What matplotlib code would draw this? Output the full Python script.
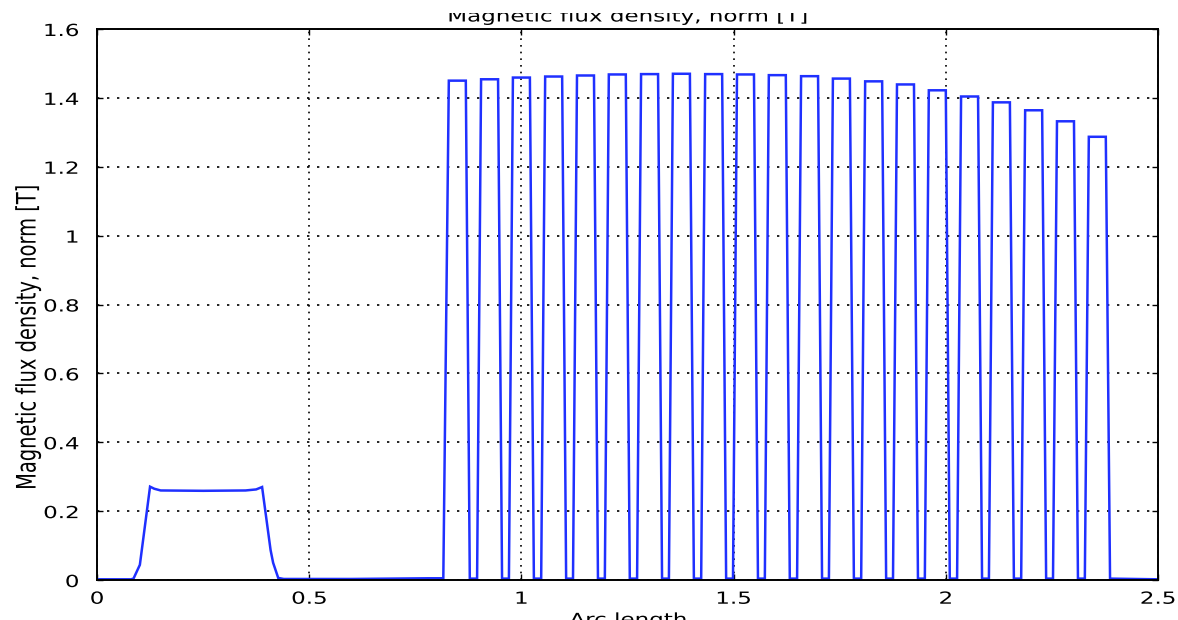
import matplotlib
matplotlib.use("Agg")
import matplotlib.pyplot as plt
from matplotlib.patheffects import AbstractPathEffect
from matplotlib.transforms import Affine2D
from matplotlib.path import Path
from matplotlib.patches import Rectangle

# ---- data -------------------------------------------------------------
# low-field stretch before the pole region (arc length, |B|)
lead_x = [0.000, 0.080, 0.086, 0.101, 0.125, 0.135, 0.150, 0.250, 0.350,
          0.375, 0.389, 0.409, 0.415, 0.427, 0.440, 0.600, 0.780, 0.816]
lead_y = [0.002, 0.002, 0.004, 0.044, 0.271, 0.265, 0.260, 0.259, 0.260,
          0.263, 0.270, 0.087, 0.050, 0.006, 0.003, 0.003, 0.005, 0.005]

# start of each flat pulse top and its level
pulse_start = [0.829, 0.905, 0.980, 1.056, 1.131, 1.206, 1.282, 1.357,
               1.433, 1.508, 1.583, 1.659, 1.734, 1.810, 1.885, 1.960,
               2.036, 2.111, 2.187, 2.262, 2.337]
pulse_peak = [1.450, 1.454, 1.459, 1.462, 1.465, 1.468, 1.469, 1.470,
              1.469, 1.468, 1.466, 1.463, 1.456, 1.448, 1.439, 1.422,
              1.404, 1.387, 1.364, 1.332, 1.287]
gap_floor = 0.004          # level between neighbouring pulses

# tail after the last pulse
tail_x = [2.387, 2.500]
tail_y = [0.004, 0.002]

x_ticks = [0, 0.5, 1, 1.5, 2, 2.5]
x_tick_labels = ["0", "0.5", "1", "1.5", "2", "2.5"]
y_ticks = [0, 0.2, 0.4, 0.6, 0.8, 1.0, 1.2, 1.4, 1.6]
y_tick_labels = ["0", "0.2", "0.4", "0.6", "0.8", "1", "1.2", "1.4", "1.6"]

TITLE = "Magnetic flux density, norm [T]"
XLABEL = "Arc length"
YLABEL = "Magnetic flux density, norm [T]"

# pulse geometry (arc-length units)
TOP_WIDTH = 0.040
EDGE = 0.0094


class Widen(AbstractPathEffect):
    """Stretch rendered glyphs horizontally around an anchor."""

    def __init__(self, factor, anchor="center"):
        super().__init__((0, 0))
        self._factor = factor
        self._anchor = anchor

    def draw_path(self, renderer, gc, tpath, affine, rgbFace=None):
        verts = tpath.vertices
        if tpath.codes is not None:
            verts = verts[tpath.codes != Path.CLOSEPOLY]
        if len(verts) == 0:
            return
        pts = affine.transform(verts)
        lo, hi = pts[:, 0].min(), pts[:, 0].max()
        if self._anchor == "left":
            a = lo
        elif self._anchor == "right":
            a = hi
        else:
            a = 0.5 * (lo + hi)
        wide = Affine2D().translate(-a, 0).scale(self._factor, 1.0).translate(a, 0)
        renderer.draw_path(gc, tpath, affine + wide, rgbFace)


WIDE = 1.38

# ---- build the polyline ----------------------------------------------
xs = list(lead_x)
ys = list(lead_y)
n = len(pulse_start)
for i, (x0, h) in enumerate(zip(pulse_start, pulse_peak)):
    xs += [x0, x0 + TOP_WIDTH]
    ys += [h, h]
    if i < n - 1:
        xs += [x0 + TOP_WIDTH + EDGE, pulse_start[i + 1] - EDGE]
        ys += [gap_floor, gap_floor]
xs += tail_x
ys += tail_y

# ---- figure -----------------------------------------------------------
W, H = 1178, 620
fig = plt.figure(figsize=(W / 100, H / 100), dpi=100)
fig.patch.set_facecolor("white")
ax = fig.add_axes([97 / W, 1 - 580 / H, (1158 - 97) / W, (580 - 29) / H])

ax.plot(xs, ys, color="#1f30ff", lw=1.8, solid_joinstyle="miter", zorder=3)

ax.set_xlim(0, 2.5)
ax.set_ylim(0, 1.6)
ax.set_xticks(x_ticks)
ax.set_xticklabels(x_tick_labels)
ax.set_yticks(y_ticks)
ax.set_yticklabels(y_tick_labels)

ax.tick_params(axis="both", direction="in", top=True, right=True,
               length=4.5, width=1.0, color="black", labelsize=12)
ax.tick_params(axis="x", pad=7)
ax.tick_params(axis="y", pad=13)

for lab in ax.get_xticklabels():
    lab.set_path_effects([Widen(WIDE, "center")])
for lab in ax.get_yticklabels():
    lab.set_path_effects([Widen(WIDE, "right")])

# dotted grid; horizontal dots come out wider than vertical ones
ax.xaxis.grid(True, color="black", lw=1.2, linestyle=(0, (1.0, 3.0)))
ax.yaxis.grid(True, color="black", lw=1.2, linestyle=(0, (1.4, 4.6)))
ax.set_axisbelow(False)
for gl in ax.get_xgridlines() + ax.get_ygridlines():
    gl.set_zorder(2)

for sp in ax.spines.values():
    sp.set_linewidth(1.4)
    sp.set_color("black")
    sp.set_zorder(4)

fig.text(627.5 / W, 1 - 21.5 / H, TITLE, ha="center", va="baseline",
         fontsize=12, path_effects=[Widen(WIDE, "center")], zorder=3)
fig.text(628 / W, 1 - 611 / H, XLABEL, ha="center", va="top",
         fontsize=12, path_effects=[Widen(WIDE, "center")], zorder=3)
fig.text(28 / W, 1 - 337 / H, YLABEL, ha="center", va="center",
         rotation=90, fontsize=14, path_effects=[Widen(WIDE, "center")])

# the top band of the canvas is blank, which trims the title
fig.patches.append(Rectangle((0, 1 - 12.5 / H), 1, 12.5 / H,
                             transform=fig.transFigure, facecolor="white",
                             edgecolor="none", zorder=10))

fig.savefig("out.png", dpi=100, facecolor="white")
